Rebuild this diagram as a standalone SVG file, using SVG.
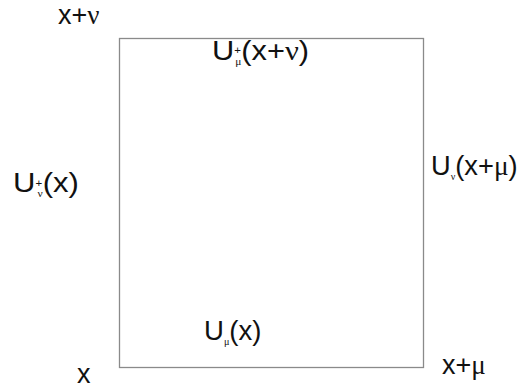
<svg xmlns="http://www.w3.org/2000/svg" width="523" height="390" viewBox="0 0 523 390">
<style>
text{font-family:"Liberation Sans",Arial,sans-serif;fill:#111;font-size:27px}
.g{font-family:"Liberation Serif","Times New Roman",serif}
.s{font-size:10px}
.edge{fill:none;stroke:#8a8a8a;stroke-width:1.3}
</style>
<rect width="523" height="390" fill="#fff"/>
<g id="connectors">
<rect class="edge" x="119.5" y="38.5" width="304" height="329"/>
</g>
<g id="node-xnu"><text x="58" y="24">x+<tspan class="g">ν</tspan></text></g>
<g id="node-x"><text x="77" y="383">x</text></g>
<g id="node-xmu"><text x="442" y="374">x+<tspan class="g">μ</tspan></text></g>
<g id="label-top"><text transform="translate(212 60) scale(1.14 1)">U<tspan class="s" dy="-6">+</tspan><tspan class="s g" dx="-5" dy="11">μ</tspan><tspan dy="-5">(x+</tspan><tspan class="g">ν</tspan>)</text></g>
<g id="label-left"><text transform="translate(13 192) scale(1.15 1)">U<tspan class="s" dy="-5">+</tspan><tspan class="s g" dx="-4" dy="10">ν</tspan><tspan dy="-5">(x)</tspan></text></g>
<g id="label-right"><text transform="translate(431 175) scale(1.01 1)">U<tspan class="s g" dy="5">ν</tspan><tspan dy="-5">(x+</tspan><tspan class="g">μ</tspan>)</text></g>
<g id="label-bottom"><text transform="translate(204 340) scale(1.02 1)">U<tspan class="s g" dy="5">μ</tspan><tspan dy="-5">(x)</tspan></text></g>
</svg>
